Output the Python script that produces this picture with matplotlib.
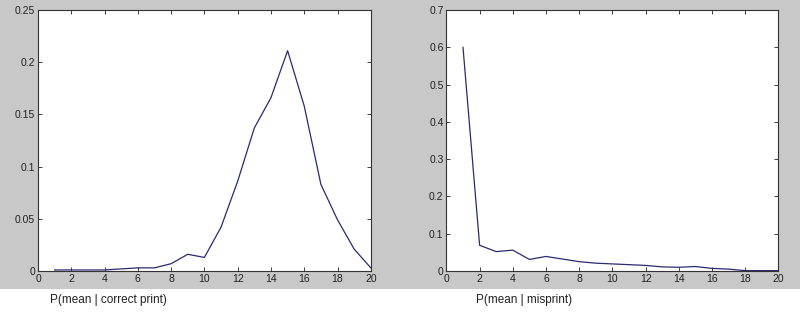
import matplotlib
matplotlib.use('Agg')
import matplotlib.pyplot as plt
from matplotlib.patches import Rectangle

plt.rcParams['font.family'] = ['Liberation Sans', 'DejaVu Sans']

# data
x = list(range(1, 21))
p_correct = [0.001, 0.001, 0.001, 0.001, 0.002, 0.003, 0.003, 0.007, 0.016, 0.013,
             0.042, 0.086, 0.137, 0.166, 0.211, 0.158, 0.083, 0.049, 0.021, 0.003]
p_misprint = [0.600, 0.069, 0.052, 0.056, 0.031, 0.039, 0.032, 0.025, 0.021, 0.019,
              0.017, 0.015, 0.011, 0.010, 0.012, 0.007, 0.005, 0.001, 0.001, 0.001]

line_color = '#2a2a72'
bg_gray = '#c8c8c8'

fig = plt.figure(figsize=(8, 3.23), dpi=100, facecolor='white')
# gray band behind the axes, like the MATLAB figure window
fig.add_artist(Rectangle((0, 0.105), 1, 0.895, transform=fig.transFigure,
                         facecolor=bg_gray, edgecolor='none', zorder=-10))

ax1 = fig.add_axes([0.0475, 0.161, 0.416, 0.808])
ax2 = fig.add_axes([0.558, 0.161, 0.415, 0.808])

panels = [(ax1, p_correct, 0.25, [0, 0.05, 0.1, 0.15, 0.2, 0.25], ['0', '0.05', '0.1', '0.15', '0.2', '0.25'],
           'P(mean | correct print)', 0.063),
          (ax2, p_misprint, 0.7, [0, 0.1, 0.2, 0.3, 0.4, 0.5, 0.6, 0.7], ['0', '0.1', '0.2', '0.3', '0.4', '0.5', '0.6', '0.7'],
           'P(mean | misprint)', 0.595)]

for ax, vals, ymax, yt, ytl, label, lx in panels:
    ax.set_zorder(1)
    ax.plot(x, vals, color=line_color, linewidth=0.9)
    ax.set_xlim(0, 20)
    ax.set_ylim(0, ymax)
    ax.set_xticks(range(0, 21, 2))
    ax.set_yticks(yt)
    ax.set_yticklabels(ytl)
    ax.tick_params(direction='in', top=True, right=True, length=3, width=0.6,
                   labelsize=7.5, colors='#222222', pad=2)
    for s in ax.spines.values():
        s.set_linewidth(0.8)
        s.set_color('#333333')
    ax.set_facecolor('white')
    fig.text(lx, 0.07, label, fontsize=8.5, color='#222222', va='center')

fig.savefig('out.png', dpi=100, facecolor='white')
